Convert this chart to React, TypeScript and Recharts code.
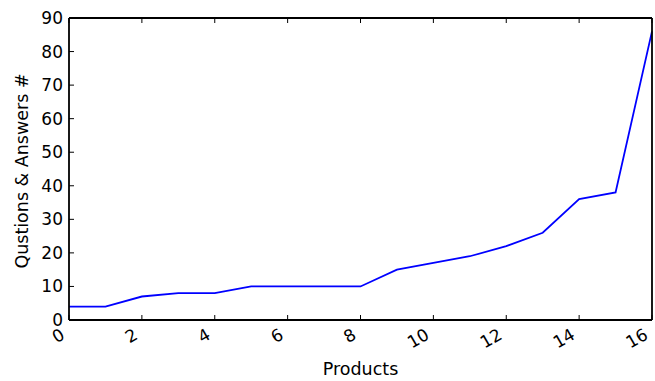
import { LineChart, Line, XAxis, YAxis, Label } from 'recharts';

const products = [0, 1, 2, 3, 4, 5, 6, 7, 8, 9, 10, 11, 12, 13, 14, 15, 16];
const qaCounts = [4, 4, 7, 8, 8, 10, 10, 10, 10, 15, 17, 19, 22, 26, 36, 38, 86];
const xTicks = [0, 2, 4, 6, 8, 10, 12, 14, 16];
const yTicks = [0, 10, 20, 30, 40, 50, 60, 70, 80, 90];

const data = products.map((p, i) => ({ product: p, count: qaCounts[i] }));

const FONT = "'DejaVu Sans', sans-serif";
const TICK_FS = 17;
const TITLE_FS = 17.5;
const TICK_LEN = 5;
const FRAME = { stroke: '#000', strokeWidth: 1.8 };

// bottom axis: inward tick mark + label rotated 30deg, right-aligned under the tick
const BottomTick = (props: any) => {
  const { x, y, payload } = props;
  return (
    <g>
      <line x1={x} y1={y} x2={x} y2={y - TICK_LEN} stroke="#000" strokeWidth={1} />
      <text
        x={x - 3}
        y={y + 18}
        textAnchor="end"
        fontSize={TICK_FS}
        fontFamily={FONT}
        fill="#000"
        transform={`rotate(-30, ${x - 3}, ${y + 18})`}
      >
        {payload.value}
      </text>
    </g>
  );
};

const TopTick = (props: any) => {
  const { x, y } = props;
  return <line x1={x} y1={y} x2={x} y2={y + TICK_LEN} stroke="#000" strokeWidth={1} />;
};

const LeftTick = (props: any) => {
  const { x, y, payload } = props;
  return (
    <g>
      <line x1={x} y1={y} x2={x + TICK_LEN} y2={y} stroke="#000" strokeWidth={1} />
      <text x={x - 6} y={y + 6} textAnchor="end" fontSize={TICK_FS} fontFamily={FONT} fill="#000">
        {payload.value}
      </text>
    </g>
  );
};

const RightTick = (props: any) => {
  const { x, y } = props;
  return <line x1={x} y1={y} x2={x - TICK_LEN} y2={y} stroke="#000" strokeWidth={1} />;
};

const YTitle = (props: any) => {
  const { viewBox } = props;
  const cx = 28;
  const cy = viewBox.y + viewBox.height / 2 + 2;
  return (
    <text
      x={cx}
      y={cy}
      textAnchor="middle"
      fontSize={TITLE_FS}
      fontFamily={FONT}
      fill="#000"
      transform={`rotate(-90, ${cx}, ${cy})`}
    >
      Qustions &amp; Answers #
    </text>
  );
};

export default function App() {
  return (
    <div style={{ position: 'absolute', left: 0, top: 0, width: 655, height: 381, background: '#fff' }}>
      <LineChart width={655} height={381} data={data} margin={{ top: 17, right: 2, left: 0, bottom: 0 }}>
        <XAxis
          dataKey="product"
          type="number"
          domain={[0, 16]}
          ticks={xTicks}
          height={61}
          tickSize={0}
          tickMargin={0}
          tickLine={false}
          tick={<BottomTick />}
          axisLine={FRAME}
          interval={0}
        >
          <Label value="Products" position="insideBottom" offset={6} fontSize={TITLE_FS} fontFamily={FONT} fill="#000" />
        </XAxis>
        {/* top and right axes only close the frame and carry inward ticks */}
        <XAxis
          xAxisId="top"
          orientation="top"
          dataKey="product"
          type="number"
          domain={[0, 16]}
          ticks={xTicks}
          height={1}
          tickSize={0}
          tickMargin={0}
          tickLine={false}
          tick={<TopTick />}
          axisLine={FRAME}
          interval={0}
        />
        <YAxis
          type="number"
          domain={[0, 90]}
          ticks={yTicks}
          width={69}
          tickSize={0}
          tickMargin={0}
          tickLine={false}
          tick={<LeftTick />}
          axisLine={FRAME}
          interval={0}
        >
          <Label content={<YTitle />} />
        </YAxis>
        <YAxis
          yAxisId="right"
          orientation="right"
          type="number"
          domain={[0, 90]}
          ticks={yTicks}
          width={1}
          tickSize={0}
          tickMargin={0}
          tickLine={false}
          tick={<RightTick />}
          axisLine={FRAME}
          interval={0}
        />
        <Line
          type="linear"
          dataKey="count"
          stroke="#0000ff"
          strokeWidth={1.8}
          dot={false}
          isAnimationActive={false}
        />
      </LineChart>
    </div>
  );
}
